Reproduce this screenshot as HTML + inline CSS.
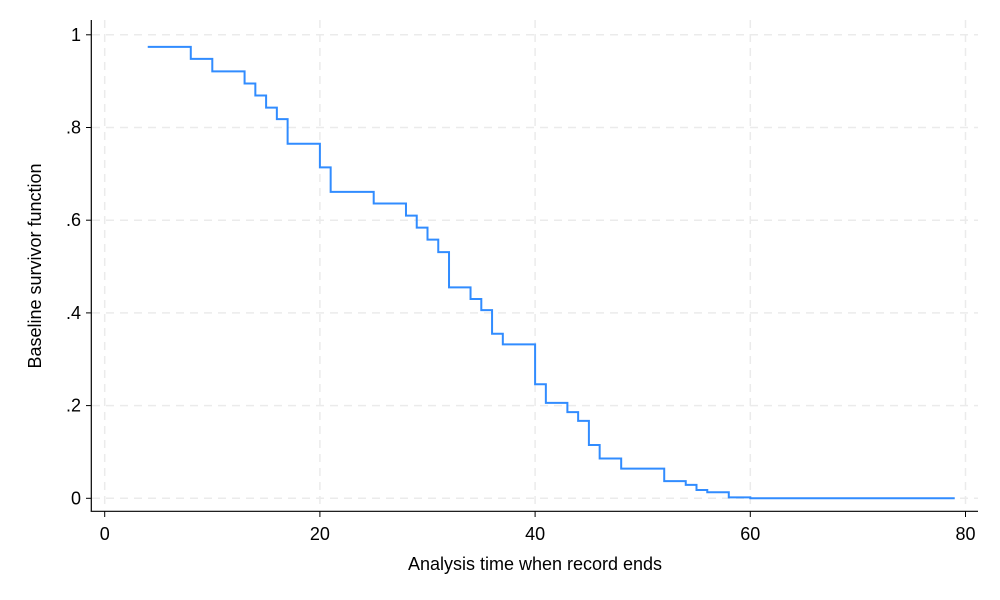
<!DOCTYPE html>
<html><head><meta charset="utf-8"><style>body{margin:0;background:#fff}svg{display:block;font-family:"Liberation Sans",Arial,sans-serif}</style></head>
<body>
<svg id="chart" width="1000" height="600" viewBox="0 0 1000 600">
<g id="grid"></g>
<g id="axes"></g>
<path id="series" fill="none" stroke="#318cff" stroke-width="2"/>
<text x="535" y="570" font-size="18" text-anchor="middle">Analysis time when record ends</text>
<text transform="translate(41,266) rotate(-90)" font-size="18" text-anchor="middle">Baseline survivor function</text>
</svg>
<script>
const times = [4,8,10,13,14,15,16,17,20,21,25,28,29,30,31,32,34,35,36,37,40,41,43,44,45,46,48,52,54,55,56,58,60];
const survival = [.974,.948,.921,.895,.869,.843,.818,.765,.714,.661,.636,.610,.584,.558,.531,.455,.430,.406,.355,.332,.246,.206,.186,.167,.115,.086,.064,.037,.029,.018,.013,.002,0];
const endTime = 79;
const xTicks = [0,20,40,60,80];
const xTickLabels = ["0","20","40","60","80"];
const yTicks = [0,.2,.4,.6,.8,1];
const yTickLabels = ["0",".2",".4",".6",".8","1"];
const X = v => 104.7 + v*10.76;
const Y = v => 498.3 - v*463.5;
const NS = "http://www.w3.org/2000/svg";
const grid = document.getElementById('grid'), axes = document.getElementById('axes');
function mk(tag, attrs, parent){const e=document.createElementNS(NS,tag);for(const k in attrs)e.setAttribute(k,attrs[k]);parent.appendChild(e);return e;}
yTicks.forEach((v,i)=>{
  const g=mk('line',{x1:92,x2:978,y1:Y(v),y2:Y(v),stroke:'#ebebeb','stroke-width':1.5,'stroke-dasharray':'8,6'},grid);
  
  
  const t=mk('line',{x1:86,x2:91,y1:Y(v),y2:Y(v),stroke:'#000'},axes);
  
  
  const l=mk('text',{x:81,y:Y(v)+6,'font-size':18,'text-anchor':'end'},axes);
  l.textContent=yTickLabels[i];
  
  
});
xTicks.forEach((v,i)=>{
  const g=mk('line',{x1:X(v),x2:X(v),y1:20,y2:510,stroke:'#ebebeb','stroke-width':1.5,'stroke-dasharray':'8,6'},grid);
  
  
  const t=mk('line',{x1:X(v),x2:X(v),y1:511,y2:517,stroke:'#000'},axes);
  
  
  const l=mk('text',{x:X(v),y:540,'font-size':18,'text-anchor':'middle'},axes);
  l.textContent=xTickLabels[i];
  
  
});
const ya=mk('line',{x1:91.3,x2:91.3,y1:20,y2:511.5,stroke:'#000','stroke-width':1.2},axes);


const xa=mk('line',{x1:90.7,x2:978,y1:511.3,y2:511.3,stroke:'#000','stroke-width':1.2},axes);


let d='M'+X(times[0])+','+Y(survival[0]);
for(let i=1;i<times.length;i++){d+=' H'+X(times[i])+' V'+Y(survival[i]);}
d+=' H'+X(endTime);
document.getElementById('series').setAttribute('d',d);
</script>
</body></html>
